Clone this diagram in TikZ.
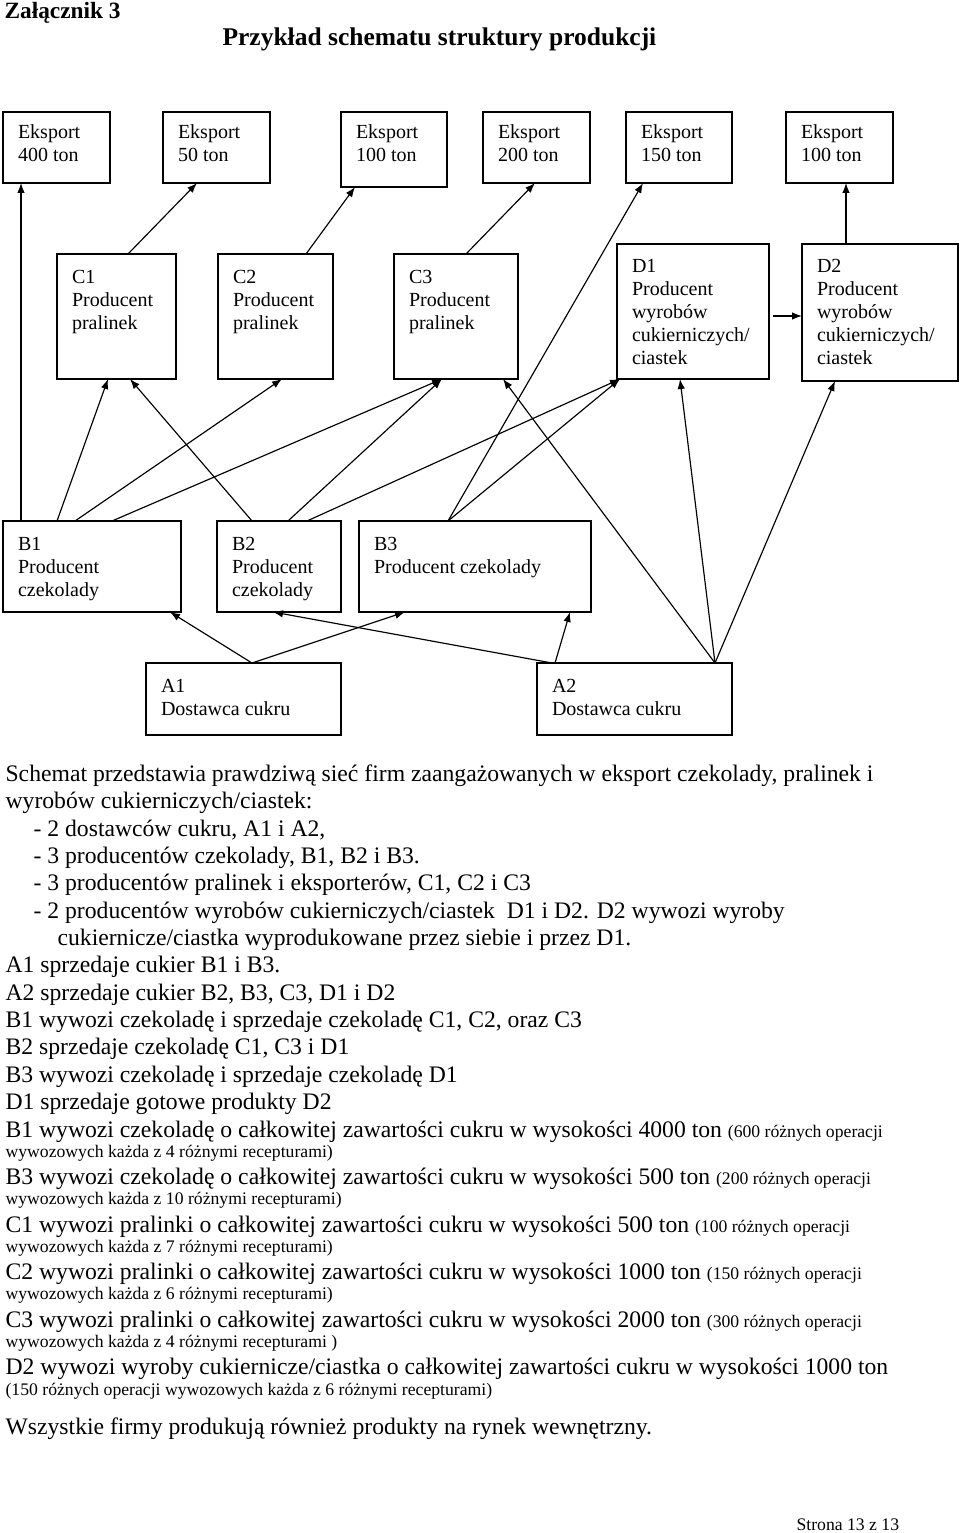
\documentclass[tikz,border=0pt]{standalone}
\usepackage{fontspec}
\setmainfont{Liberation Serif}
\usepackage{tikz}
\usetikzlibrary{arrows.meta, positioning, calc}
\tikzstyle{box}=[draw,rectangle,anchor=north west,inner xsep=9pt,inner ysep=0pt,outer sep=0pt,font=\fontsize{12}{13.8}\selectfont]
\tikzstyle{txt}=[anchor=base west,inner sep=0pt,font=\fontsize{14.2}{16.4}\selectfont]
\tikzstyle{note}=[anchor=base west,inner sep=0pt,font=\fontsize{10.6}{12}\selectfont]
\tikzstyle{head}=[anchor=base west,inner sep=0pt,font=\bfseries\fontsize{14}{16}\selectfont]
\newcommand{\boxtxt}[4]{\parbox[t][\dimexpr #2pt*3/5\relax][t]{\dimexpr #1pt*3/5-18pt\relax}{\raggedright\vspace{#3}#4}}
\newcommand{\sm}[1]{{\fontsize{10.6}{12}\selectfont #1}}

\begin{document}
\begin{tikzpicture}[x=0.6pt,y=-0.6pt,line width=0.7pt,>={Latex[length=6pt,width=4.5pt]}]
    \useasboundingbox (0,0) rectangle (960,1533);
    \node[head] (zal) at (4,19) {Załącznik 3};
    \node[head, font=\bfseries\fontsize{15.3}{17}\selectfont] (title) at (222,46) {Przykład schematu struktury produkcji};
    % eksport
    \node[box] (e1) at (3,112) {\boxtxt{107}{71}{7.7pt}{Eksport\\400 ton}};
    \node[box] (e2) at (163,112) {\boxtxt{107}{71}{7.7pt}{Eksport\\50 ton}};
    \node[box] (e3) at (341,112) {\boxtxt{106}{75}{7.7pt}{Eksport\\100 ton}};
    \node[box] (e4) at (483,112) {\boxtxt{107}{71}{7.7pt}{Eksport\\200 ton}};
    \node[box] (e5) at (626,112) {\boxtxt{106}{71}{7.7pt}{Eksport\\150 ton}};
    \node[box] (e6) at (786,112) {\boxtxt{107}{71}{7.7pt}{Eksport\\100 ton}};
    % pralinki, ciastka
    \node[box] (c1) at (57,254) {\boxtxt{119}{125}{9.5pt}{C1\\Producent\\pralinek}};
    \node[box] (c2) at (218,254) {\boxtxt{115}{125}{9.5pt}{C2\\Producent\\pralinek}};
    \node[box] (c3) at (394,254) {\boxtxt{124}{125}{9.5pt}{C3\\Producent\\pralinek}};
    \node[box] (d1) at (617,244) {\boxtxt{152}{135}{8.9pt}{D1\\Producent\\wyrobów\\cukierniczych/\\ciastek}};
    \node[box] (d2) at (802,244) {\boxtxt{156}{137}{8.9pt}{D2\\Producent\\wyrobów\\cukierniczych/\\ciastek}};
    % czekolada
    \node[box] (b1) at (3,521) {\boxtxt{178}{91}{9.5pt}{B1\\Producent\\czekolady}};
    \node[box] (b2) at (217,521) {\boxtxt{124}{91}{9.5pt}{B2\\Producent\\czekolady}};
    \node[box] (b3) at (359,521) {\boxtxt{232}{91}{9.5pt}{B3\\Producent czekolady}};
    % cukier
    \node[box] (a1) at (146,663) {\boxtxt{195}{72}{9.5pt}{A1\\Dostawca cukru}};
    \node[box] (a2) at (537,663) {\boxtxt{195}{72}{9.5pt}{A2\\Dostawca cukru}};
    % do eksportu
    \draw[->] ($(b1.north west)+(18,0)$) -- ($(e1.south west)+(18,0)$);
    \draw[->] ($(c1.north west)+(71,0)$) -- ($(e2.south west)+(34,0)$);
    \draw[->] ($(c2.north west)+(88,0)$) -- ($(e3.south west)+(14,0)$);
    \draw[->] ($(c3.north west)+(72,0)$) -- ($(e4.south west)+(52,0)$);
    \draw[->] ($(b3.north west)+(89,0)$) -- ($(e5.south west)+(17,0)$);
    \draw[->] ($(d2.north west)+(44,0)$) -- ($(e6.south west)+(60,0)$);
    % czekolada -> C, D
    \draw[->] ($(b1.north west)+(54,0)$) -- ($(c1.south west)+(51,0)$);
    \draw[->] ($(b1.north west)+(72,0)$) -- ($(c2.south west)+(64,0)$);
    \draw[->] ($(b1.north west)+(109,0)$) -- ($(c3.south west)+(48,0)$);
    \draw[->] ($(b2.north west)+(35,0)$) -- ($(c1.south west)+(73,0)$);
    \draw[->] ($(b2.north west)+(71,0)$) -- ($(c3.south west)+(48,0)$);
    \draw[->] ($(b2.north west)+(90,0)$) -- ($(d1.south west)+(3,0)$);
    \draw[->] ($(b3.north west)+(89,0)$) -- ($(d1.south west)+(3,0)$);
    \draw[->] ($(d1.north east)+(4,72)$) -- ($(d2.north west)+(0,72)$);
    % cukier
    \draw[->] ($(a1.north west)+(106,0)$) -- ($(b1.south west)+(167,0)$);
    \draw[->] ($(a1.north west)+(106,0)$) -- ($(b3.south west)+(46,0)$);
    \draw[->] ($(a2.north west)+(15,0)$) -- ($(b2.south west)+(56,0)$);
    \draw[->] ($(a2.north west)+(18,0)$) -- ($(b3.south west)+(211,0)$);
    \draw[->] ($(a2.north west)+(178,0)$) -- ($(c3.south west)+(109,0)$);
    \draw[->] ($(a2.north west)+(178,0)$) -- ($(d1.south west)+(63,0)$);
    \draw[->] ($(a2.north west)+(178,0)$) -- ($(d2.south west)+(33,0)$);
    % opis
    \node[txt] (t1) at (5,781) {Schemat przedstawia prawdziwą sieć firm zaangażowanych w eksport czekolady, pralinek i};
    \node[txt] (t2) at (5,808) {wyrobów cukierniczych/ciastek:};
    \node[txt] (t3) at (33,836) {- 2 dostawców cukru, A1 i A2,};
    \node[txt] (t4) at (33,863) {- 3 producentów czekolady, B1, B2 i B3.};
    \node[txt] (t5) at (33,890) {- 3 producentów pralinek i eksporterów, C1, C2 i C3};
    \node[txt] (t6) at (33,918) {- 2 producentów wyrobów cukierniczych/ciastek \ D1 i D2. D2 wywozi wyroby};
    \node[txt] (t7) at (57,945) {cukiernicze/ciastka wyprodukowane przez siebie i przez D1.};
    \node[txt] (t8) at (5,972) {A1 sprzedaje cukier B1 i B3.};
    \node[txt] (t9) at (5,1000) {A2 sprzedaje cukier B2, B3, C3, D1 i D2};
    \node[txt] (t10) at (5,1027) {B1 wywozi czekoladę i sprzedaje czekoladę C1, C2, oraz C3};
    \node[txt] (t11) at (5,1054) {B2 sprzedaje czekoladę C1, C3 i D1};
    \node[txt] (t12) at (5,1082) {B3 wywozi czekoladę i sprzedaje czekoladę D1};
    \node[txt] (t13) at (5,1109) {D1 sprzedaje gotowe produkty D2};
    % eksporterzy
    \node[txt] (x1) at (5,1137) {B1 wywozi czekoladę o całkowitej zawartości cukru w wysokości 4000 ton \sm{(600 różnych operacji}};
    \node[note] (n1) at (5,1157) {wywozowych każda z 4 różnymi recepturami)};
    \node[txt] (x2) at (5,1184) {B3 wywozi czekoladę o całkowitej zawartości cukru w wysokości 500 ton \sm{(200 różnych operacji}};
    \node[note] (n2) at (5,1204) {wywozowych każda z 10 różnymi recepturami)};
    \node[txt] (x3) at (5,1232) {C1 wywozi pralinki o całkowitej zawartości cukru w wysokości 500 ton \sm{(100 różnych operacji}};
    \node[note] (n3) at (5,1252) {wywozowych każda z 7 różnymi recepturami)};
    \node[txt] (x4) at (5,1279) {C2 wywozi pralinki o całkowitej zawartości cukru w wysokości 1000 ton \sm{(150 różnych operacji}};
    \node[note] (n4) at (5,1299) {wywozowych każda z 6 różnymi recepturami)};
    \node[txt] (x5) at (5,1327) {C3 wywozi pralinki o całkowitej zawartości cukru w wysokości 2000 ton \sm{(300 różnych operacji}};
    \node[note] (n5) at (5,1347) {wywozowych każda z 4 różnymi recepturami )};
    \node[txt] (x6) at (5,1374) {D2 wywozi wyroby cukiernicze/ciastka o całkowitej zawartości cukru w wysokości 1000 ton};
    \node[note] (n6) at (5,1395) {(150 różnych operacji wywozowych każda z 6 różnymi recepturami)};
    \node[txt] (last) at (5,1434) {Wszystkie firmy produkują również produkty na rynek wewnętrzny.};
    \node[note] (page) at (796,1530) {Strona 13 z 13};
\end{tikzpicture}
\end{document}
